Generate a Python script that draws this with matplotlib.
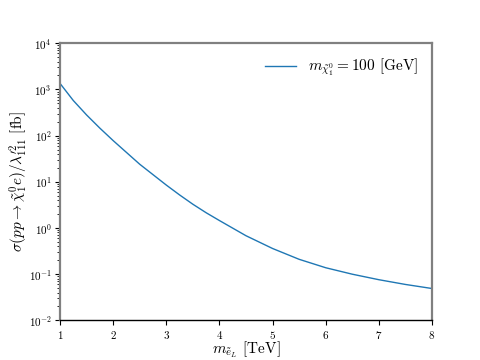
import numpy as np
import matplotlib
matplotlib.use('Agg')
import matplotlib.pyplot as plt

plt.rcParams['font.family'] = 'serif'
plt.rcParams['font.serif'] = ['cmr10']
plt.rcParams['mathtext.fontset'] = 'cm'
plt.rcParams['axes.formatter.use_mathtext'] = True

# selectron mass [TeV] and cross section [fb]
m_selectron = [1.0, 1.25, 1.5, 1.75, 2.0, 2.5, 3.0, 3.25, 3.5, 3.75, 4.0, 4.5, 5.0,
               5.5, 6.0, 6.5, 7.0, 7.5, 8.0]
sigma = [1350, 575, 280, 145, 78, 24, 8.5, 5.2, 3.27, 2.14, 1.45, 0.68, 0.36,
         0.21, 0.138, 0.10, 0.076, 0.060, 0.049]

fig, ax = plt.subplots(figsize=(4.8, 3.6), dpi=100)

ax.plot(m_selectron, sigma, color='tab:blue', lw=1.0,
        label=r'$m_{\tilde{\chi}_1^0} = 100$ [GeV]')

ax.set_yscale('log')
ax.set_xlim(1, 8)
ax.set_ylim(1e-2, 1e4)
ax.set_xticks(range(1, 9))

ax.set_xlabel(r'$m_{\tilde{e}_L}$ [TeV]', fontsize=11, labelpad=-1)
ax.set_ylabel(r'$\sigma(pp \to \tilde{\chi}_1^0 e)/\lambda^{\prime 2}_{111}$ [fb]',
              fontsize=11, labelpad=-1)

for side in ['left', 'right', 'top']:
    ax.spines[side].set_color('#808080')
    ax.spines[side].set_linewidth(1.6)
ax.spines['bottom'].set_color('black')
ax.spines['bottom'].set_linewidth(1.0)

ax.tick_params(axis='both', which='major', labelsize=8, length=3.5, pad=2.5)
ax.tick_params(axis='y', which='minor', length=2)

ax.legend(frameon=False, loc='upper right', fontsize=11)

plt.savefig('out.png', dpi=100)
